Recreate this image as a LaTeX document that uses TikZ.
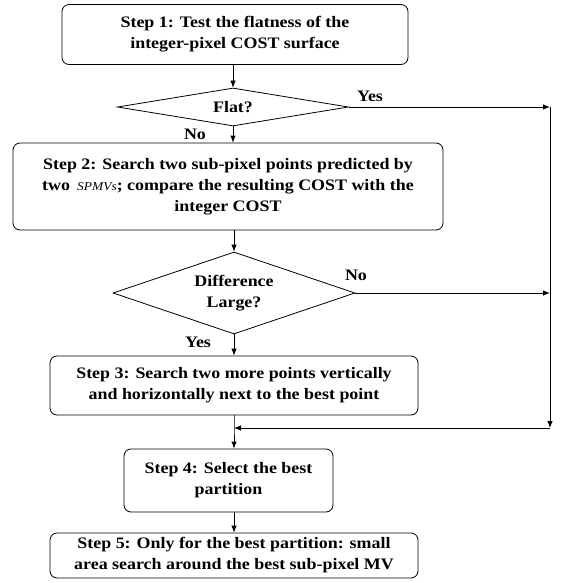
\documentclass[tikz,border=0pt]{standalone}
\usepackage{fontspec}
\setmainfont{Liberation Serif}[FakeStretch=1.12]
\usetikzlibrary{shapes.geometric,arrows.meta}

\begin{document}
\begin{tikzpicture}[x=1pt, y=-1pt, line width=0.8pt,
		font=\fontsize{16}{21}\selectfont\bfseries,
		stepbox/.style={draw, rounded corners=7pt, align=center, inner sep=0pt},
		testbox/.style={draw, diamond, aspect=4, inner sep=0pt, align=center},
		flow/.style={-{Latex[length=7pt, width=5.5pt]}}]
		\useasboundingbox (0,0) rectangle (563,583);

		% Step boxes
		\node[stepbox, minimum width=346pt, minimum height=60pt] (step1) at (235,34.5)
		{Step 1: Test the flatness of the\\integer-pixel COST surface};
		\node[stepbox, minimum width=430pt, minimum height=87pt] (step2) at (228,186.5)
		{Step 2: Search two sub-pixel points predicted by\\two \,{\fontsize{12}{12}\selectfont\mdseries\itshape SPMVs}; compare the resulting COST with the\\integer COST};
		\node[stepbox, minimum width=368pt, minimum height=59pt] (step3) at (234,385.5)
		{Step 3: Search two more points vertically\\and horizontally next to the best point};
		\node[stepbox, minimum width=209pt, minimum height=63pt] (step4) at (228.5,480.5)
		{Step 4: Select the best\\partition};
		\node[stepbox, minimum width=368pt, minimum height=45pt] (step5) at (234,555.5)
		{Step 5: Only for the best partition: small\\area search around the best sub-pixel MV};

		% Decisions
		\node[testbox, minimum width=231pt, minimum height=38pt] (flat) at (233,107) {Flat?};
		\node[testbox, minimum width=242pt, minimum height=82pt] (diff) at (234,293) {Difference\\Large?};

		% Branch labels
		\node (yes1) at (370,96) {Yes};
		\node (no1) at (195,134) {No};
		\node (no2) at (356,275) {No};
		\node (yes2) at (198,342) {Yes};

		% Bypass line on the right
		\coordinate (rtop) at (550,107);
		\coordinate (rmid) at (550,293);
		\coordinate (rbot) at (550,428);
		\coordinate (join) at (234,428);

		\draw[flow] (step1.south -| flat.north) -- (flat.north);
		\draw[flow] (flat.south) -- (flat.south |- step2.north);
		\draw[flow] (step2.south -| diff.north) -- (diff.north);
		\draw[flow] (diff.south) -- (diff.south |- step3.north);
		\draw[flow] (flat.east) -- (rtop);
		\draw[flow] (diff.east) -- (rmid);
		\draw[flow] (rtop) -- (rbot);
		\draw[flow] (rbot) -- (join);
		\draw[flow] (step3.south) -- (join) -- (join |- step4.north);
		\draw[flow] (step4.south -| join) -- (join |- step5.north);
	\end{tikzpicture}
\end{document}
